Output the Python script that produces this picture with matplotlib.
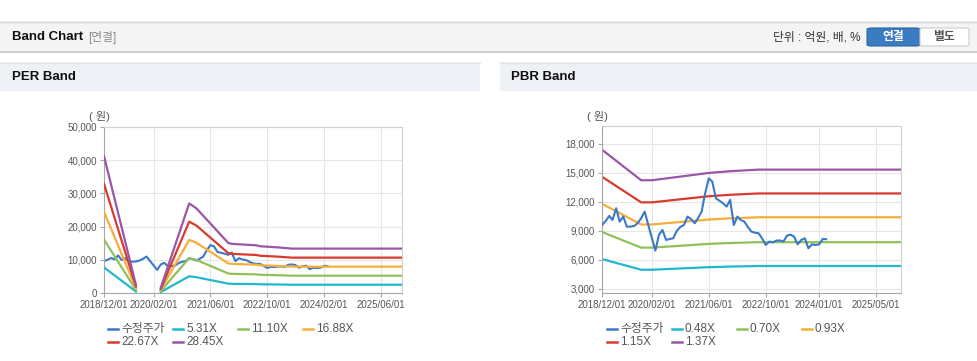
import numpy as np
import pandas as pd
import matplotlib
matplotlib.use("Agg")
import matplotlib.pyplot as plt
from matplotlib.patches import Rectangle, FancyBboxPatch
from matplotlib.lines import Line2D

plt.rcParams['font.family'] = ['Liberation Sans', 'Noto Sans CJK KR']

W, H = 978, 361

# ----------- DATA -----------

# 수정주가 (monthly, from 2018/12)
price = [9600, 10000, 10540, 10120, 11330, 9950, 10470, 9430, 9430, 9500,
         9780, 10300, 10980, 9600, 8230, 6960, 8580, 9090, 8060, 8150,
         8230, 9000, 9400, 9600, 10470, 10200, 9780, 10300, 10980, 12870,
         14420, 14080, 12360, 12100, 11840, 11500, 12190, 9600, 10470, 10120,
         9950, 9400, 8920, 8800, 8750, 8200, 7540, 7890, 7800, 8000,
         8000, 7890, 8500, 8600, 8400, 7610, 8060, 8230, 7200, 7600,
         7540, 7600, 8160, 8130]
price_dates = pd.date_range("2018-12-01", periods=len(price), freq="MS")

# PER band: EPS knots (NaN = no band)
per_dates = pd.to_datetime(["2018-12-01", "2019-09-01", "2019-10-01", "2020-04-01",
                            "2020-12-01", "2021-02-01", "2021-11-01", "2021-12-01",
                            "2022-07-01", "2022-08-01", "2023-01-01", "2023-05-01",
                            "2025-12-01"])
per_eps = [1450, 85, np.nan, 55, 948, 896, 530, 520, 505, 495, 483, 470, 470]
per_multiples = [5.31, 11.10, 16.88, 22.67, 28.45]

# PBR band: BPS knots
pbr_dates = pd.to_datetime(["2018-12-01", "2019-11-01", "2020-02-01", "2021-06-01",
                            "2021-12-01", "2022-08-01", "2025-12-01"])
pbr_bps = [12680, 10380, 10380, 10930, 11060, 11180, 11180]
pbr_multiples = [0.48, 0.70, 0.93, 1.15, 1.37]

tick_dates_per = ["2018/12/01", "2020/02/01", "2021/06/01", "2022/10/01", "2024/02/01", "2025/06/01"]
tick_dates_pbr = ["2018/12/01", "2020/02/01", "2021/06/01", "2022/10/01", "2024/01/01", "2025/05/01"]

price_color = "#3b78c8"
band_colors = ["#22b7cc", "#8fc15b", "#f5ae3a", "#d93a2f", "#9a56a9"]


# ----------- HELPERS -----------

def px_rect(fig, x0, y0, x1, y1, **kw):
    r = Rectangle((x0 / W, 1 - y1 / H), (x1 - x0) / W, (y1 - y0) / H,
                  transform=fig.transFigure, **kw)
    fig.add_artist(r)
    return r


def px_text(fig, x, y, s, **kw):
    fig.text(x / W, 1 - y / H, s, **kw)


def px_line(fig, x0, x1, y, color, lw=1.0):
    fig.add_artist(Line2D([x0 / W, x1 / W], [1 - y / H, 1 - y / H],
                          transform=fig.transFigure, color=color, lw=lw))


def band_axes(fig, rect, ylim, yticks, tick_labels):
    ax = fig.add_axes(rect)
    ax.set_xlim(pd.Timestamp("2018-12-01"), pd.Timestamp("2025-12-01"))
    ax.set_ylim(*ylim)
    ax.set_yticks(yticks)
    ax.set_yticklabels([f"{v:,}" for v in yticks])
    ax.set_xticks(pd.to_datetime(tick_labels, format="%Y/%m/%d"))
    ax.set_xticklabels(tick_labels)
    ax.grid(True, color="#e6e6e6", lw=0.8)
    ax.set_axisbelow(True)
    for side in ["top", "right"]:
        ax.spines[side].set_color("#d0d0d0")
    for side in ["left", "bottom"]:
        ax.spines[side].set_color("#a8a8a8")
    ax.tick_params(axis="both", labelsize=7, colors="#a8a8a8", labelcolor="#555555",
                   length=3, width=0.8, pad=2)
    return ax


def legend(fig, x0, y0, labels, colors):
    for i, (lab, c) in enumerate(zip(labels, colors)):
        row, col = divmod(i, 4)
        x = x0 + col * 65
        y = y0 + row * 13
        px_line(fig, x, x + 10, y, c, lw=1.8)
        px_text(fig, x + 13, y, lab, fontsize=8.5, color="#555555", va="center", ha="left")


# ----------- FIGURE -----------

fig = plt.figure(figsize=(W / 100, H / 100), dpi=100)

# top bar
px_rect(fig, 0, 21, W, 52, facecolor="#f4f4f4", edgecolor="none")
px_line(fig, 0, W, 21.5, "#d6d6d6")
px_line(fig, 0, W, 52, "#c4c4c4", lw=1.2)
px_text(fig, 12, 37, "Band Chart", fontsize=9.5, fontweight="bold", color="#111111", va="center")
px_text(fig, 88, 37, "[연결]", fontsize=8.5, color="#888888", va="center")
px_text(fig, 861, 37, "단위 : 억원, 배, %", fontsize=8.5, color="#333333", va="center", ha="right")
fig.add_artist(FancyBboxPatch((867 / W, 1 - 46 / H), 53 / W, 18 / H,
                              boxstyle="round,pad=0,rounding_size=0.004",
                              transform=fig.transFigure, facecolor="#3a7bc2", edgecolor="#2f69a8", lw=0.8))
fig.add_artist(FancyBboxPatch((920 / W, 1 - 46 / H), 49 / W, 18 / H,
                              boxstyle="round,pad=0,rounding_size=0.004",
                              transform=fig.transFigure, facecolor="white", edgecolor="#cccccc", lw=0.8))
px_text(fig, 893, 37, "연결", fontsize=8.5, fontweight="bold", color="white", va="center", ha="center")
px_text(fig, 944, 37, "별도", fontsize=8.5, fontweight="bold", color="#555555", va="center", ha="center")

# panel headers
px_rect(fig, 0, 62, 480, 91, facecolor="#eef1f6", edgecolor="none")
px_rect(fig, 500, 62, W, 91, facecolor="#eef1f6", edgecolor="none")
px_line(fig, 0, 480, 62.5, "#e2e5ea")
px_line(fig, 500, W, 62.5, "#e2e5ea")
px_text(fig, 12, 77, "PER Band", fontsize=9.5, fontweight="bold", color="#111111", va="center")
px_text(fig, 511, 77, "PBR Band", fontsize=9.5, fontweight="bold", color="#111111", va="center")

# PER chart
ax1 = band_axes(fig, [104 / W, 1 - 293 / H, 298 / W, 166 / H], (0, 50000),
                list(range(0, 50001, 10000)), tick_dates_per)
ax1.plot(price_dates, price, color=price_color, lw=1.5, zorder=2)
eps = np.array(per_eps)
for m, c in zip(per_multiples, band_colors):
    ax1.plot(per_dates, eps * m, color=c, lw=1.6, zorder=3)
px_text(fig, 99, 117, "( 원)", fontsize=8, color="#555555", va="center", ha="center")

# PBR chart
ax2 = band_axes(fig, [602 / W, 1 - 293.3 / H, 299 / W, 167.3 / H], (2550, 19820),
                list(range(3000, 18001, 3000)), tick_dates_pbr)
bps = np.array(pbr_bps)
for m, c in zip(pbr_multiples, band_colors):
    ax2.plot(pbr_dates, bps * m, color=c, lw=1.6, zorder=2)
ax2.plot(price_dates, price, color=price_color, lw=1.5, zorder=3)
px_text(fig, 597, 117, "( 원)", fontsize=8, color="#555555", va="center", ha="center")

# legends
legend(fig, 108, 329, ["수정주가"] + [f"{m:.2f}X" for m in per_multiples],
       [price_color] + band_colors)
legend(fig, 607, 329, ["수정주가"] + [f"{m:.2f}X" for m in pbr_multiples],
       [price_color] + band_colors)

fig.savefig("out.png", dpi=100)
